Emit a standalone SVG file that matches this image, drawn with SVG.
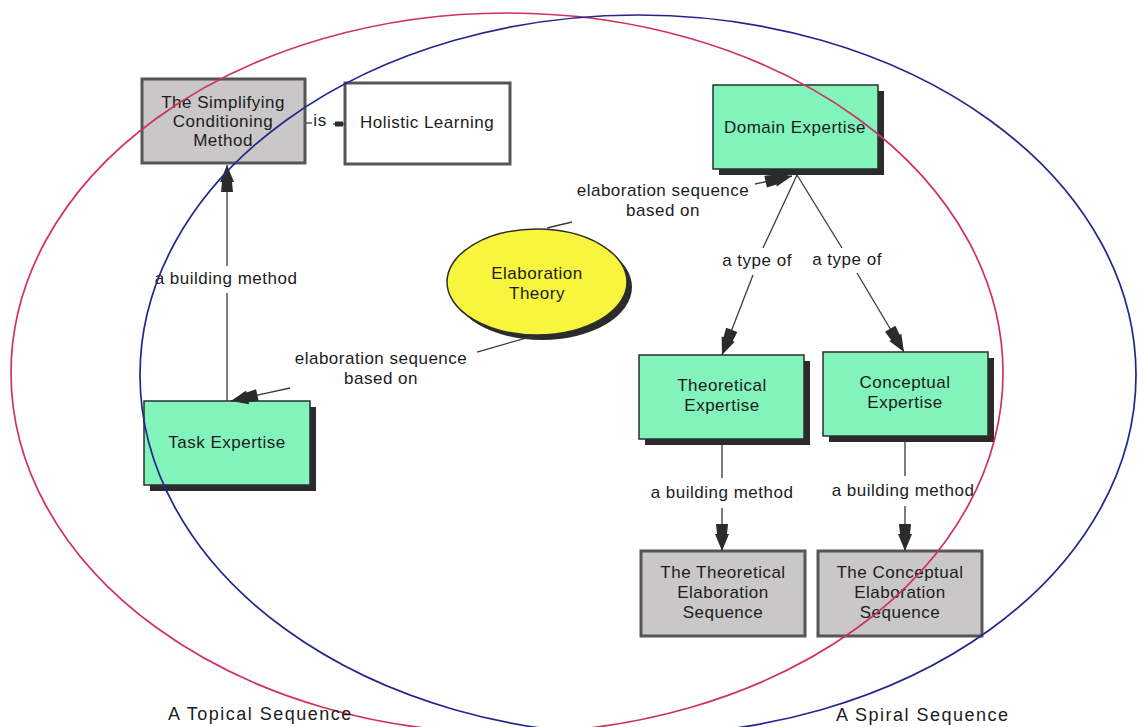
<svg xmlns="http://www.w3.org/2000/svg" width="1138" height="727" viewBox="0 0 1138 727">
<style>
  text { font-family: "Liberation Sans", Arial, sans-serif; font-size: 17px; fill: #1c1c1c; letter-spacing: 0.5px; text-anchor: middle; }
  .green { fill: #82f3bb; stroke: #2e2e2e; stroke-width: 1.5; }
  .shadow { fill: #2b2b2b; }
  .grey { fill: #c9c7c7; stroke: #565656; stroke-width: 3; }
  .white { fill: #ffffff; stroke: #565656; stroke-width: 3; }
  .yellow { fill: #f9f53f; stroke: #2e2e2e; stroke-width: 1.5; }
  .link { stroke: #3a3a3a; stroke-width: 1.3; fill: none; }
  .seq { fill: none; stroke-width: 1.7; }
  .seqlabel { font-size: 18px; letter-spacing: 1.5px; text-anchor: start; }
</style>
<defs>
  <marker id="arr" markerUnits="userSpaceOnUse" markerWidth="32" markerHeight="20" viewBox="-30 -10 32 20" refX="0" refY="0" orient="auto">
    <path d="M0,0 L-17,-7 L-17,-5 L-27,-6 L-27,6 L-17,5 L-17,7 Z" fill="#2b2b2b"/>
  </marker>
  <marker id="sq" markerUnits="userSpaceOnUse" markerWidth="12" markerHeight="8" viewBox="-11 -4 12 8" refX="0" refY="0" orient="auto">
    <rect x="-10" y="-2.5" width="8" height="5" fill="#2b2b2b"/>
  </marker>
</defs>
<rect width="1138" height="727" fill="#ffffff"/>

<g id="simplifying">
  <rect class="grey" x="142" y="79" width="163" height="84"/>
  <text x="223" y="108">The Simplifying</text>
  <text x="223" y="127">Conditioning</text>
  <text x="223" y="146">Method</text>
</g>
<g id="holistic">
  <rect class="white" x="345" y="83" width="165" height="81"/>
  <text x="427" y="128">Holistic Learning</text>
</g>
<g id="domain">
  <rect class="shadow" x="719" y="91" width="165" height="84"/>
  <rect class="green" x="713" y="85" width="165" height="84"/>
  <text x="795" y="133">Domain Expertise</text>
</g>
<g id="elaboration">
  <ellipse class="shadow" cx="542" cy="287" rx="90" ry="53"/>
  <ellipse class="yellow" cx="537" cy="282" rx="90" ry="53"/>
  <text x="537" y="279">Elaboration</text>
  <text x="537" y="299">Theory</text>
</g>
<g id="task">
  <rect class="shadow" x="150" y="407" width="166" height="84"/>
  <rect class="green" x="144" y="401" width="166" height="84"/>
  <text x="227" y="448">Task Expertise</text>
</g>
<g id="theoretical">
  <rect class="shadow" x="645" y="361" width="165" height="84"/>
  <rect class="green" x="639" y="355" width="165" height="84"/>
  <text x="722" y="391">Theoretical</text>
  <text x="722" y="411">Expertise</text>
</g>
<g id="conceptual">
  <rect class="shadow" x="829" y="358" width="165" height="84"/>
  <rect class="green" x="823" y="352" width="165" height="84"/>
  <text x="905" y="388">Conceptual</text>
  <text x="905" y="408">Expertise</text>
</g>
<g id="theoretical-seq">
  <rect class="grey" x="641" y="551" width="164" height="85"/>
  <text x="723" y="578">The Theoretical</text>
  <text x="723" y="598">Elaboration</text>
  <text x="723" y="618">Sequence</text>
</g>
<g id="conceptual-seq">
  <rect class="grey" x="818" y="551" width="164" height="85"/>
  <text x="900" y="578">The Conceptual</text>
  <text x="900" y="598">Elaboration</text>
  <text x="900" y="618">Sequence</text>
</g>

<g id="connectors">
  <line class="link" x1="306" y1="123" x2="312" y2="123"/>
  <text x="320" y="126">is</text>
  <line class="link" x1="333" y1="124" x2="345" y2="124" marker-end="url(#sq)"/>

  <line class="link" x1="227" y1="401" x2="227" y2="293"/>
  <line class="link" x1="227" y1="266" x2="227" y2="165" marker-end="url(#arr)"/>
  <text x="226" y="284">a building method</text>

  <line class="link" x1="533" y1="336" x2="477" y2="352"/>
  <text x="381" y="364">elaboration sequence</text>
  <text x="381" y="384">based on</text>
  <line class="link" x1="290" y1="388" x2="231" y2="401" marker-end="url(#arr)"/>

  <line class="link" x1="547" y1="228" x2="572" y2="222"/>
  <text x="663" y="196">elaboration sequence</text>
  <text x="663" y="216">based on</text>
  <line class="link" x1="755" y1="184" x2="792" y2="176" marker-end="url(#arr)"/>

  <line class="link" x1="797" y1="175" x2="763" y2="248"/>
  <text x="757" y="266">a type of</text>
  <line class="link" x1="753" y1="275" x2="722" y2="355" marker-end="url(#arr)"/>

  <line class="link" x1="797" y1="175" x2="842" y2="248"/>
  <text x="847" y="265">a type of</text>
  <line class="link" x1="857" y1="273" x2="904" y2="352" marker-end="url(#arr)"/>

  <line class="link" x1="722" y1="445" x2="722" y2="478"/>
  <text x="722" y="498">a building method</text>
  <line class="link" x1="722" y1="508" x2="722" y2="551" marker-end="url(#arr)"/>

  <line class="link" x1="905" y1="442" x2="905" y2="476"/>
  <text x="903" y="496">a building method</text>
  <line class="link" x1="905" y1="506" x2="905" y2="551" marker-end="url(#arr)"/>
</g>

<g id="sequences">
  <ellipse class="seq" cx="507" cy="373" rx="496" ry="360" stroke="#d0325e"/>
  <ellipse class="seq" cx="638" cy="375" rx="498" ry="360" stroke="#25258f"/>
  <text class="seqlabel" x="168" y="720">A Topical Sequence</text>
  <text class="seqlabel" x="836" y="721">A Spiral Sequence</text>
</g>
</svg>
